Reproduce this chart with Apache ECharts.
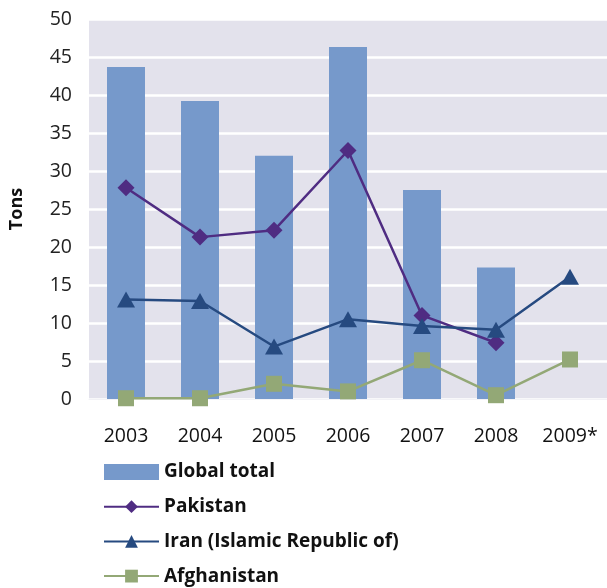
<!DOCTYPE html>
<html><head><meta charset="utf-8">
<script src="https://cdn.jsdelivr.net/npm/echarts@6/dist/echarts.min.js"></script>
<style>html,body{margin:0;padding:0;background:#fff}#c{width:607px;height:588px}</style>
</head><body><div id="c"></div>
<script>
var categories = ['2003','2004','2005','2006','2007','2008','2009*'];
var globalTotal = [43.7, 39.2, 32.0, 46.3, 27.5, 17.3, null];
var pakistan = [27.8, 21.3, 22.2, 32.7, 11.0, 7.4, null];
var iran = [13.1, 12.9, 6.9, 10.5, 9.6, 9.1, 16.1];
var afghanistan = [0.1, 0.1, 2.0, 1.0, 5.1, 0.5, 5.2];
var yTicks = [0, 5, 10, 15, 20, 25, 30, 35, 40, 45, 50];

var font = '"Open Sans", "Noto Sans", sans-serif';
var chart = echarts.init(document.getElementById('c'));
chart.setOption({
  animation: false,
  textStyle: { fontFamily: font },
  grid: { left: 86, right: -5, top: 19, height: 380, show: true, backgroundColor: '#E3E2EC', borderWidth: 0 },
  legend: {
    orient: 'vertical', left: 98, top: 455, height: 133, itemWidth: 55, itemHeight: 16, itemGap: 10.7,
    textStyle: { fontFamily: font, fontSize: 19, fontWeight: 'bold', color: '#111', lineHeight: 24 },
    data: [
      { name: 'Global total', icon: 'rect' },
      { name: 'Pakistan' },
      { name: 'Iran (Islamic Republic of)' },
      { name: 'Afghanistan' }
    ]
  },
  xAxis: {
    type: 'category', data: categories,
    axisLine: { show: true, lineStyle: { color: '#F2F2F6', width: 1 } },
    axisTick: { show: false },
    axisLabel: { fontSize: 19.5, color: '#111', margin: 27, fontFamily: font }
  },
  yAxis: {
    type: 'value', min: yTicks[0], max: yTicks[yTicks.length - 1], interval: 5,
    name: 'Tons', nameLocation: 'middle', nameGap: 63, nameRotate: 90,
    nameTextStyle: { fontSize: 18, fontWeight: 'bold', color: '#111', fontFamily: font },
    axisLine: { show: false }, axisTick: { show: false },
    axisLabel: { fontSize: 19.5, color: '#222', margin: 17, fontFamily: font },
    splitLine: { lineStyle: { color: '#FFFFFF', width: 2.5 } }
  },
  series: [
    { name: 'Global total', type: 'bar', data: globalTotal, barWidth: 38,
      itemStyle: { color: '#7699CB' } },
    { name: 'Pakistan', type: 'line', data: pakistan, symbol: 'diamond', symbolSize: 17,
      lineStyle: { color: '#4F2C82', width: 2.5 }, itemStyle: { color: '#4F2C82' } },
    { name: 'Iran (Islamic Republic of)', type: 'line', data: iran, symbol: 'triangle', symbolSize: [18, 16],
      lineStyle: { color: '#264A80', width: 2.5 }, itemStyle: { color: '#264A80' } },
    { name: 'Afghanistan', type: 'line', data: afghanistan, symbol: 'rect', symbolSize: 16,
      lineStyle: { color: '#93A876', width: 2.5 }, itemStyle: { color: '#93A876' } }
  ]
});
</script></body></html>
